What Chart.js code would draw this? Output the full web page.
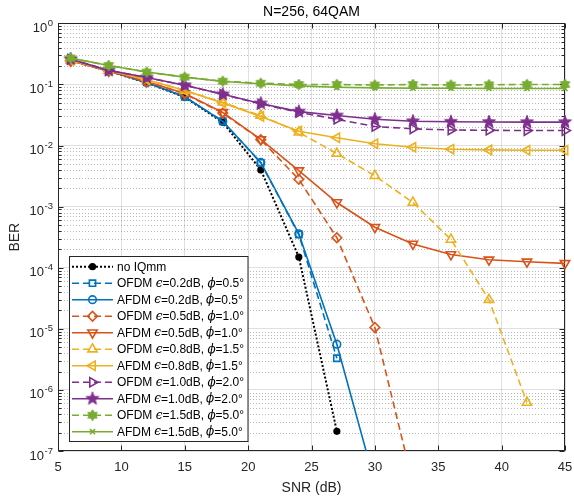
<!DOCTYPE html>
<html>
<head>
<meta charset="utf-8">
<script src="https://cdn.jsdelivr.net/npm/chart.js@4.4.1/dist/chart.umd.min.js"></script>
<style>
html,body{margin:0;padding:0;background:#fff;}
#wrap{width:574px;height:497px;}
</style>
</head>
<body>
<div id="wrap"><canvas id="canvas-ber" width="574" height="497"></canvas></div>
<script>
// SNR points (dB)
var snr=[6,9,12,15,18,21,24,27,30,33,36,39,42,45];

// BER curves (series stop where the simulated BER reached zero)
var berNoIQ=[0.25,0.165,0.107,0.062,0.024,0.0040,1.5e-4,2.1e-7];
var berOfdm02=[0.25,0.166,0.108,0.063,0.025,0.0052,3.5e-4,3.3e-6];
var berAfdm02=[0.25,0.166,0.108,0.063,0.025,0.0053,3.6e-4,5.6e-6,3e-8];
var berOfdm05=[0.24,0.166,0.111,0.070,0.034,0.0125,0.0028,3.1e-4,1.05e-5,3e-8];
var berAfdm05=[0.245,0.167,0.112,0.071,0.035,0.0126,0.0039,1.17e-3,4.6e-4,2.45e-4,1.65e-4,1.35e-4,1.25e-4,1.18e-4];
var berOfdm08=[0.25,0.17,0.12,0.080,0.051,0.031,0.0165,0.0074,0.0032,1.17e-3,2.9e-4,3.0e-5,6.2e-7];
var berAfdm08=[0.25,0.17,0.12,0.080,0.050,0.030,0.0172,0.0134,0.0107,0.0094,0.0087,0.0085,0.0084,0.0084];
var berOfdm10=[0.26,0.17,0.13,0.097,0.069,0.048,0.035,0.027,0.0205,0.0188,0.018,0.0178,0.0176,0.0176];
var berAfdm10=[0.26,0.17,0.13,0.097,0.069,0.049,0.036,0.031,0.027,0.025,0.0245,0.0243,0.0242,0.0242];
var berOfdm15=[0.27,0.205,0.16,0.132,0.113,0.105,0.100,0.100,0.098,0.100,0.098,0.099,0.100,0.100];
var berAfdm15=[0.27,0.205,0.16,0.132,0.112,0.103,0.095,0.090,0.088,0.087,0.087,0.086,0.086,0.086];

var xTicks=[5,10,15,20,25,30,35,40,45];
var yDecades=[1e-7,1e-6,1e-5,1e-4,1e-3,1e-2,1e-1,1];

var fontFam='"Liberation Sans", Arial, Helvetica, sans-serif';
var axisColor='#262626';
var colBlue='#0072BD', colOrange='#D95319', colYellow='#EDB120', colPurple='#7E2F8E', colGreen='#77AC30';

function starMarker(color, n, rOut, rIn, size){
	var c=document.createElement('canvas');
	c.width=size; c.height=size;
	var g=c.getContext('2d');
	var cx=size/2, cy=size/2;
	g.beginPath();
	for(var i=0;i<2*n;i++){
		var r=(i%2===0)?rOut:rIn;
		var a=-Math.PI/2+i*Math.PI/n;
		var px=cx+r*Math.cos(a), py=cy+r*Math.sin(a);
		if(i===0) g.moveTo(px,py); else g.lineTo(px,py);
	}
	g.closePath();
	g.fillStyle=color; g.strokeStyle=color; g.lineWidth=1;
	g.fill(); g.stroke();
	return c;
}
var pentagram=starMarker(colPurple,5,6.8,2.8,16);
var hexagram=starMarker(colGreen,6,5.5,3.2,13);

function serie(label, vals, color, dash, style, radius, filled, rot, lw){
	var pts=[];
	for(var i=0;i<snr.length;i++){
		if(vals[i]!==undefined && vals[i]!==null) pts.push({x:snr[i], y:vals[i]});
	}
	return {
		label:label,
		data:pts,
		borderColor:color,
		backgroundColor:color,
		borderWidth:lw||1.6,
		borderDash:dash,
		pointStyle:style,
		pointRadius:radius,
		pointHoverRadius:radius,
		pointRotation:rot||0,
		pointBorderColor:color,
		pointBackgroundColor:filled?color:'rgba(0,0,0,0)',
		pointBorderWidth:1.6,
		tension:0,
		fill:false,
		clip:{left:14,right:14,top:14,bottom:0}
	};
}

var dashed=[7,4];
var datasets=[
	serie('no IQmm', berNoIQ, '#000000', [2,2], 'circle', 2.8, true, 0, 2),
	serie('OFDM ϵ=0.2dB, ϕ=0.5°', berOfdm02, colBlue, dashed, 'rect', 4.4, false, 0),
	serie('AFDM ϵ=0.2dB, ϕ=0.5°', berAfdm02, colBlue, [], 'circle', 3.8, false, 0),
	serie('OFDM ϵ=0.5dB, ϕ=1.0°', berOfdm05, colOrange, dashed, 'rectRot', 4.8, false, 0),
	serie('AFDM ϵ=0.5dB, ϕ=1.0°', berAfdm05, colOrange, [], 'triangle', 5.4, false, 180),
	serie('OFDM ϵ=0.8dB, ϕ=1.5°', berOfdm08, colYellow, dashed, 'triangle', 5.4, false, 0),
	serie('AFDM ϵ=0.8dB, ϕ=1.5°', berAfdm08, colYellow, [], 'triangle', 5.4, false, -90),
	serie('OFDM ϵ=1.0dB, ϕ=2.0°', berOfdm10, colPurple, dashed, 'triangle', 5.4, false, 90),
	serie('AFDM ϵ=1.0dB, ϕ=2.0°', berAfdm10, colPurple, [], pentagram, 6, true, 0),
	serie('OFDM ϵ=1.5dB, ϕ=5.0°', berOfdm15, colGreen, dashed, hexagram, 5, true, 0),
	serie('AFDM ϵ=1.5dB, ϕ=5.0°', berAfdm15, colGreen, [], 'crossRot', 3.6, false, 0)
];
// later series on top, like the original plot
datasets.forEach(function(d,i){ d.order=datasets.length-i; });

// grid, box, inward ticks, tick labels, axis labels
var axesPlugin={
	id:'axesPlugin',
	beforeDatasetsDraw:function(chart){
		var ctx=chart.ctx, a=chart.chartArea, ys=chart.scales.y, xs=chart.scales.x;
		ctx.save();
		ctx.lineWidth=1;
		ctx.strokeStyle='rgba(0,0,0,0.28)';
		ctx.setLineDash([1,2]);
		for(var e=-7;e<0;e++){
			for(var k=2;k<10;k++){
				var py=Math.round(ys.getPixelForValue(k*Math.pow(10,e)))+0.5;
				ctx.beginPath(); ctx.moveTo(a.left,py); ctx.lineTo(a.right,py); ctx.stroke();
			}
		}
		ctx.setLineDash([]);
		ctx.strokeStyle=axisColor;
		var L=Math.round(a.left)+0.5, R=Math.round(a.right)-0.5, T=Math.round(a.top)+0.5, B=Math.round(a.bottom)-0.5;
		ctx.strokeRect(L,T,R-L,B-T);
		ctx.beginPath();
		xTicks.forEach(function(v){
			var px=Math.round(xs.getPixelForValue(v))+0.5;
			ctx.moveTo(px,B); ctx.lineTo(px,B-5);
			ctx.moveTo(px,T); ctx.lineTo(px,T+5);
		});
		for(var e2=-7;e2<=0;e2++){
			for(var k2=1;k2<10;k2++){
				var v=k2*Math.pow(10,e2);
				if(v>1) break;
				var len=(k2===1)?5:3;
				var py2=Math.round(ys.getPixelForValue(v))+0.5;
				ctx.moveTo(L,py2); ctx.lineTo(L+len,py2);
				ctx.moveTo(R,py2); ctx.lineTo(R-len,py2);
			}
		}
		ctx.stroke();
		ctx.restore();
	},
	afterDraw:function(chart){
		var ctx=chart.ctx, a=chart.chartArea, ys=chart.scales.y, xs=chart.scales.x;
		ctx.save();
		ctx.fillStyle=axisColor;
		ctx.textBaseline='alphabetic';
		yDecades.forEach(function(v){
			var py=ys.getPixelForValue(v);
			var ex=String(Math.round(Math.log10(v)));
			ctx.font='9.5px '+fontFam;
			ctx.textAlign='right';
			var ew=ctx.measureText(ex).width;
			ctx.fillText(ex, a.left-5, py+2.5);
			ctx.font='13px '+fontFam;
			ctx.fillText('10', a.left-5-ew-0.5, py+8.5);
		});
		ctx.textAlign='center';
		ctx.textBaseline='middle';
		ctx.font='13px '+fontFam;
		xTicks.forEach(function(v){
			ctx.fillText(String(v), xs.getPixelForValue(v), a.bottom+16);
		});
		ctx.font='14px '+fontFam;
		ctx.fillText('SNR (dB)', (a.left+a.right)/2, a.bottom+37);
		ctx.translate(15,(a.top+a.bottom)/2);
		ctx.rotate(-Math.PI/2);
		ctx.fillText('BER',0,0);
		ctx.restore();
		drawLegend(chart);
	}
};

var legendBox={left:69.5,top:256.5,width:178.5,height:185,row0:266.7,rowStep:16.5,lineFrom:72,lineTo:113,textX:117};

function drawLegend(chart){
	var ctx=chart.ctx, lb=legendBox;
	ctx.save();
	ctx.fillStyle='#ffffff';
	ctx.fillRect(lb.left,lb.top,lb.width,lb.height);
	ctx.strokeStyle=axisColor;
	ctx.lineWidth=1;
	ctx.strokeRect(lb.left,lb.top,lb.width,lb.height);
	chart.data.datasets.forEach(function(d,i){
		var y=lb.row0+i*lb.rowStep;
		ctx.save();
		ctx.strokeStyle=d.borderColor;
		ctx.lineWidth=d.borderWidth;
		ctx.setLineDash(d.borderDash||[]);
		ctx.beginPath(); ctx.moveTo(lb.lineFrom,y); ctx.lineTo(lb.lineTo,y); ctx.stroke();
		ctx.setLineDash([]);
		ctx.strokeStyle=d.pointBorderColor;
		ctx.fillStyle=d.pointBackgroundColor;
		ctx.lineWidth=d.pointBorderWidth;
		Chart.helpers.drawPoint(ctx,{pointStyle:d.pointStyle,rotation:d.pointRotation,radius:d.pointRadius,borderWidth:d.pointBorderWidth},(lb.lineFrom+lb.lineTo)/2,y);
		ctx.restore();
		// label, greek letters in italic
		ctx.fillStyle='#000000';
		ctx.textAlign='left';
		ctx.textBaseline='middle';
		var x=lb.textX;
		d.label.split(/([ϵϕ])/).forEach(function(p){
			if(!p) return;
			ctx.font=(p==='ϵ'||p==='ϕ')?'italic 12px "DejaVu Serif", "Liberation Serif", serif':'12px '+fontFam;
			ctx.fillText(p,x,y+0.5);
			x+=ctx.measureText(p).width;
		});
	});
	ctx.restore();
}

var chartBer=new Chart(document.getElementById('canvas-ber').getContext('2d'),{
	type:'line',
	data:{datasets:datasets},
	options:{
		responsive:false,
		animation:false,
		layout:{padding:{left:58,right:9,top:0,bottom:46}},
		plugins:{
			legend:{display:false},
			tooltip:{enabled:false},
			title:{
				display:true,
				text:'N=256, 64QAM',
				color:'#000000',
				font:{family:fontFam,size:14,weight:'normal'},
				padding:{top:3.3,bottom:3.3}
			}
		},
		scales:{
			x:{
				type:'linear',
				min:5,
				max:45,
				ticks:{display:false,stepSize:5},
				grid:{color:'rgba(0,0,0,0.12)',drawTicks:false},
				border:{display:false}
			},
			y:{
				type:'logarithmic',
				min:1e-7,
				max:1,
				afterBuildTicks:function(scale){
					scale.ticks=yDecades.map(function(v){return {value:v,major:true};});
				},
				ticks:{display:false},
				grid:{color:'rgba(0,0,0,0.12)',drawTicks:false},
				border:{display:false}
			}
		}
	},
	plugins:[axesPlugin]
});
</script>
</body>
</html>
